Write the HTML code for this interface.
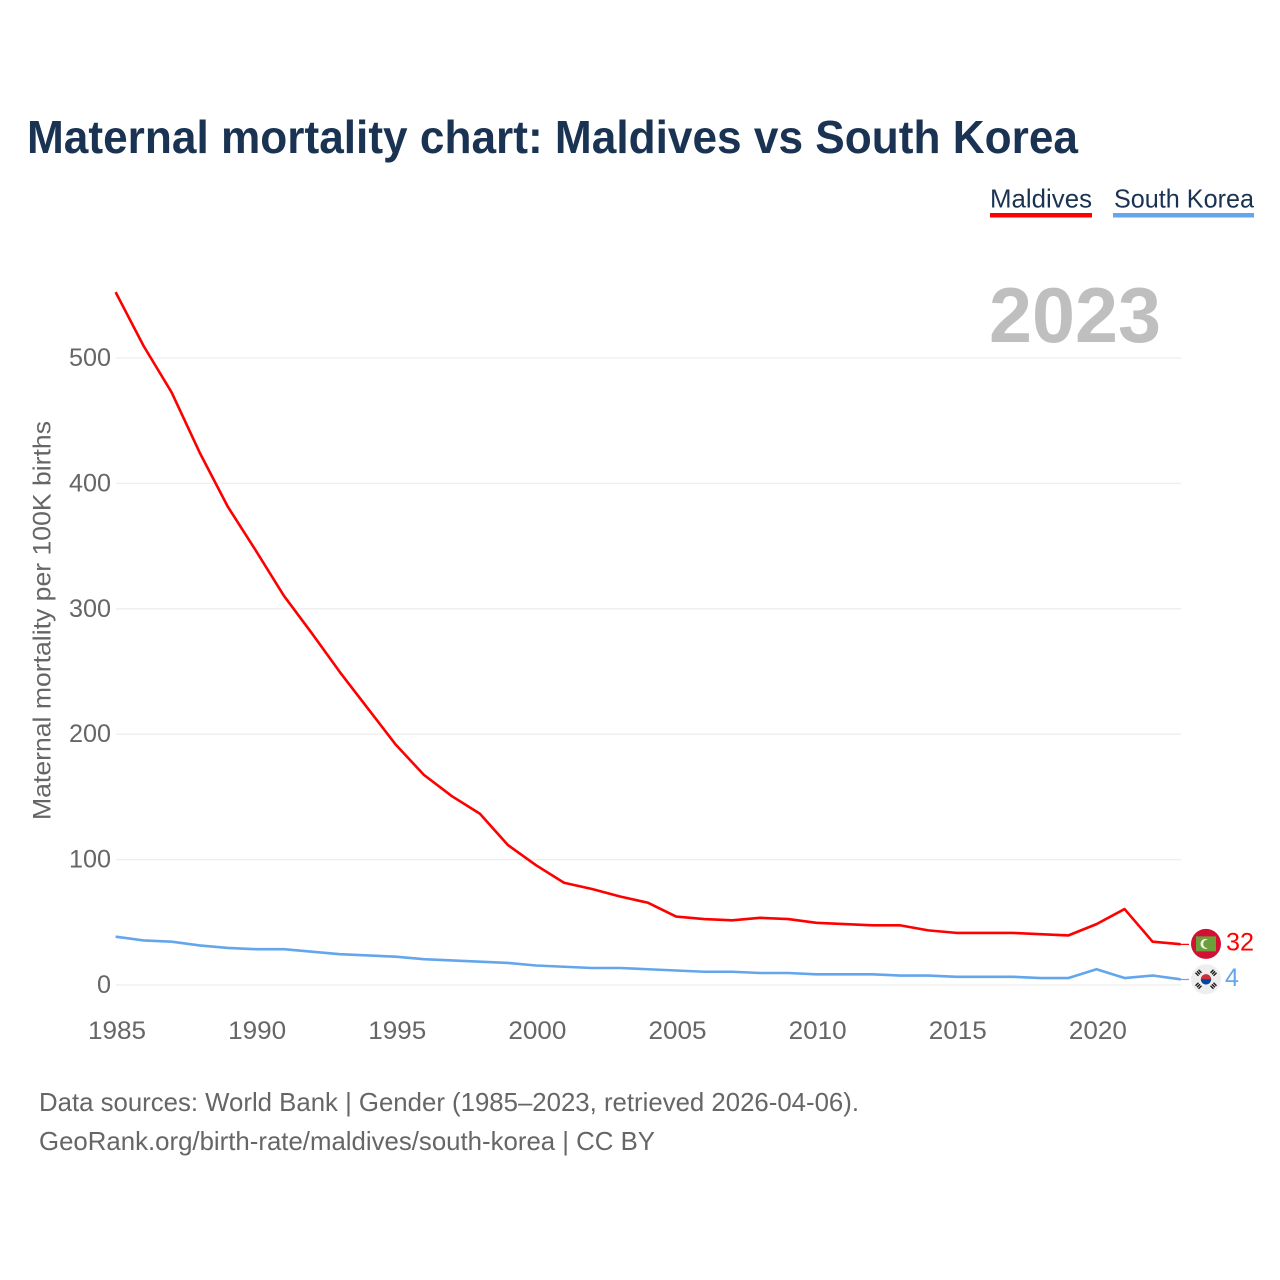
<!DOCTYPE html>
<html lang="en">
<head>
<meta charset="utf-8">
<title>Maternal mortality chart: Maldives vs South Korea</title>
<style>
html,body{margin:0;padding:0;background:#fff}
svg{display:block}
text{font-family:"Liberation Sans",Arial,sans-serif}
</style>
</head>
<body>
<svg id="chart" xmlns="http://www.w3.org/2000/svg" width="1280" height="1280" viewBox="0 0 1280 1280">
  <rect width="1280" height="1280" fill="#fff"/>
  <text x="27" y="153" font-size="46" font-weight="700" fill="#1a3353" textLength="1051" lengthAdjust="spacingAndGlyphs">Maternal mortality chart: Maldives vs South Korea</text>

  <g>
    <text x="990" y="207.5" font-size="26" fill="#1a3353" textLength="102" lengthAdjust="spacingAndGlyphs">Maldives</text>
    <rect x="990" y="213" width="102" height="4.5" fill="#ff0000"/>
  </g>
  <g>
    <text x="1114" y="207.5" font-size="26" fill="#1a3353" textLength="140" lengthAdjust="spacingAndGlyphs">South Korea</text>
    <rect x="1113" y="213" width="141" height="4.5" fill="#63a6ec"/>
  </g>

  <g id="grid"></g>
  <text x="989" y="342" font-size="78" font-weight="700" fill="#bfbfbf" textLength="172" lengthAdjust="spacingAndGlyphs">2023</text>
  <g id="yticks"></g>
  <g id="xticks"></g>
  <text transform="translate(50.5,820) rotate(-90)" font-size="25" fill="#666" textLength="399" lengthAdjust="spacingAndGlyphs">Maternal mortality per 100K births</text>

  <path id="line-maldives" transform="translate(-0.4,-0.7)" fill="none" stroke="#ff0000" stroke-width="2.6" stroke-linejoin="round"/>
  <path id="line-korea" transform="translate(-0.4,-0.7)" fill="none" stroke="#63a6ec" stroke-width="2.6" stroke-linejoin="round"/>
  <line id="conn-maldives" stroke="#ff0000" stroke-width="1.2"/>
  <line id="conn-korea" stroke="#63a6ec" stroke-width="1.2"/>

  <g id="flag-maldives">
    <circle r="15" fill="#d21034"/>
    <rect x="-10" y="-7.5" width="20" height="15" fill="#6a9f3a"/>
    <circle cx="-0.5" cy="0" r="5" fill="#f0f0f0"/>
    <circle cx="1.4" cy="0" r="4.2" fill="#6a9f3a"/>
  </g>
  <g id="flag-korea">
    <circle r="15" fill="#eeeeee"/>
    <circle r="5.2" fill="#cd2e3a"/>
    <path d="M-5.2 0A5.2 5.2 0 0 0 5.2 0Z" fill="#0047a0"/>
    <path d="M-7.5 -9.5l3 3M-9 -8l3 3M-10.5 -6.5l3 3M7.5 -9.5l-3 3M9 -8l-3 3M10.5 -6.5l-3 3M-7.5 9.5l3 -3M-9 8l3 -3M-10.5 6.5l3 -3M7.5 9.5l-3 -3M9 8l-3 -3M10.5 6.5l-3 -3" stroke="#1a1a1a" stroke-width="1.4" fill="none"/>
  </g>
  <text id="value-maldives" x="1226" font-size="25" fill="#ff0000" textLength="28" lengthAdjust="spacingAndGlyphs"></text>
  <text id="value-korea" x="1225" font-size="25" fill="#63a6ec"></text>

  <text x="39" y="1111" font-size="26" fill="#666" textLength="820" lengthAdjust="spacingAndGlyphs">Data sources: World Bank | Gender (1985–2023, retrieved 2026-04-06).</text>
  <text x="39" y="1150" font-size="26" fill="#666" textLength="616" lengthAdjust="spacingAndGlyphs">GeoRank.org/birth-rate/maldives/south-korea | CC BY</text>
</svg>
<script>
const years = [1985,1986,1987,1988,1989,1990,1991,1992,1993,1994,1995,1996,1997,1998,1999,2000,2001,2002,2003,2004,2005,2006,2007,2008,2009,2010,2011,2012,2013,2014,2015,2016,2017,2018,2019,2020,2021,2022,2023];
const maldives = [552,509,472,424,381,346,310,280,249,220,191,167,150,136,111,95,81,76,70,65,54,52,51,53,52,49,48,47,47,43,41,41,41,40,39,48,60,34,32];
const southKorea = [38,35,34,31,29,28,28,26,24,23,22,20,19,18,17,15,14,13,13,12,11,10,10,9,9,8,8,8,7,7,6,6,6,5,5,12,5,7,4];
const yTickLabels = [0,100,200,300,400,500];
const xTickLabels = [1985,1990,1995,2000,2005,2010,2015,2020];

const NS = 'http://www.w3.org/2000/svg';
const X0 = 116, X1 = 1181, Y0 = 985, Y500 = 358;
function xScale(year) {
  return X0 + (year - years[0]) * (X1 - X0) / (years[years.length - 1] - years[0]);
}
function yScale(value) {
  return Y0 - value * (Y0 - Y500) / 500;
}
function linePath(values) {
  return values.map(function (v, i) {
    return (i ? 'L' : 'M') + xScale(years[i]).toFixed(2) + ' ' + yScale(v).toFixed(2);
  }).join('');
}

const grid = document.getElementById('grid');
const yticks = document.getElementById('yticks');
const xticks = document.getElementById('xticks');

yTickLabels.forEach(function (t) {
  const gl = document.createElementNS(NS, 'line');
  
  
  gl.setAttribute('x1', X0);
  gl.setAttribute('x2', X1);
  gl.setAttribute('y1', yScale(t));
  gl.setAttribute('y2', yScale(t));
  gl.setAttribute('stroke', '#eeeeee');
  gl.setAttribute('stroke-width', '1.3');
  grid.appendChild(gl);

  const lb = document.createElementNS(NS, 'text');
  
  
  lb.setAttribute('x', 111);
  lb.setAttribute('y', yScale(t) + 8);
  lb.setAttribute('text-anchor', 'end');
  lb.setAttribute('font-size', '25');
  lb.setAttribute('fill', '#666');
  lb.setAttribute('textLength', String(t).length * 14);
  lb.setAttribute('lengthAdjust', 'spacingAndGlyphs');
  lb.textContent = t;
  yticks.appendChild(lb);
});

xTickLabels.forEach(function (t) {
  const lb = document.createElementNS(NS, 'text');
  
  
  lb.setAttribute('x', xScale(t) + 1);
  lb.setAttribute('y', 1039);
  lb.setAttribute('text-anchor', 'middle');
  lb.setAttribute('font-size', '25');
  lb.setAttribute('fill', '#666');
  lb.setAttribute('textLength', '58');
  lb.setAttribute('lengthAdjust', 'spacingAndGlyphs');
  lb.textContent = t;
  xticks.appendChild(lb);
});

document.getElementById('line-maldives').setAttribute('d', linePath(maldives));
document.getElementById('line-korea').setAttribute('d', linePath(southKorea));

function placeEnd(values, key, labelDy, flagDy) {
  const last = values[values.length - 1];
  const y = yScale(last);
  const conn = document.getElementById('conn-' + key);
  conn.setAttribute('x1', X1 - 0.5);
  conn.setAttribute('x2', 1189);
  conn.setAttribute('y1', y - 0.5);
  conn.setAttribute('y2', y - 0.5);
  document.getElementById('flag-' + key).setAttribute('transform', 'translate(1206,' + (y + flagDy) + ')');
  const v = document.getElementById('value-' + key);
  v.setAttribute('y', y + labelDy);
  v.textContent = last;
}
placeEnd(maldives, 'maldives', 5.5, -1);
placeEnd(southKorea, 'korea', 6, -0.7);
</script>
</body>
</html>
